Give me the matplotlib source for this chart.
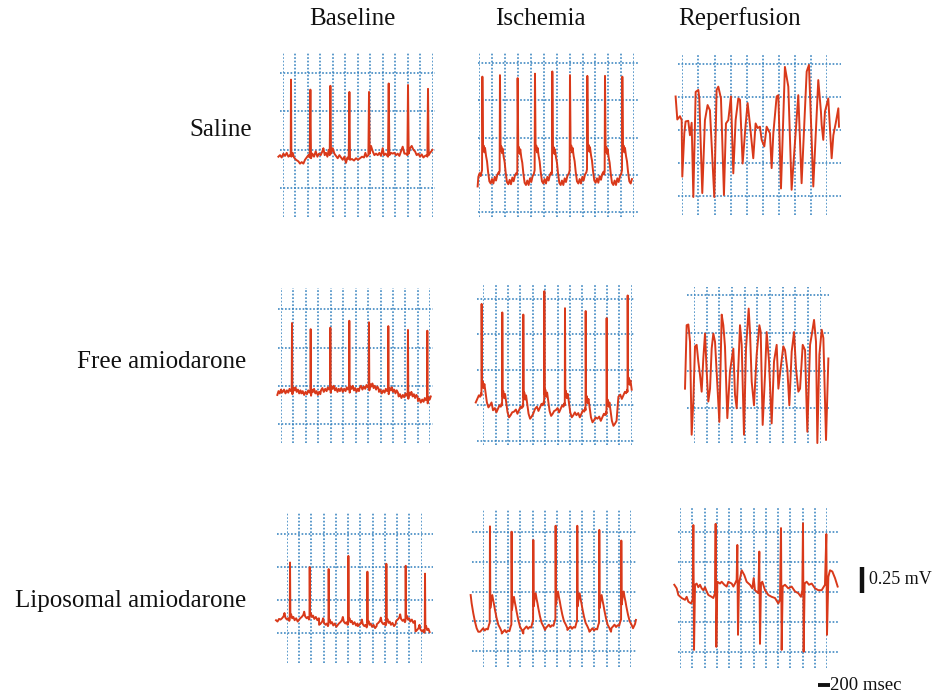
import matplotlib
matplotlib.use('Agg')
import matplotlib.pyplot as plt
import numpy as np

plt.rcParams['font.family'] = ['Liberation Serif', 'DejaVu Serif']

W, H = 944, 694
GRID_MS = 200     # one vertical division
GRID_MV = 0.5     # one horizontal division

col_titles = ['Baseline', 'Ischemia', 'Reperfusion']
row_titles = ['Saline', 'Free amiodarone', 'Liposomal amiodarone']

# ---------------- saline ----------------
sal_base_ms = [-69, -43, -16, 11, 37, 64, 91, 117, 128, 133, 139, 160, 181, 213, 251, 277, 304, 331, 357, 384,
               411, 432, 443, 453, 475, 501, 528, 555, 581, 608, 635, 651, 672, 693, 715, 736, 752, 763, 773, 800,
               827, 853, 880, 907, 933, 960, 987, 1013, 1035, 1056, 1067, 1077, 1109, 1141, 1173, 1205, 1237, 1269,
               1301, 1323, 1344, 1371, 1381, 1392, 1413, 1440, 1467, 1493, 1520, 1547, 1573, 1600, 1621, 1648,
               1675, 1685, 1696, 1707, 1733, 1760, 1787, 1813, 1840, 1867, 1893, 1920, 1947, 1973, 1995, 2005,
               2016, 2037, 2064, 2091, 2117, 2144, 2171, 2197, 2224, 2251, 2277, 2304, 2315, 2325, 2336, 2357,
               2379, 2395]
sal_base_mv = [0.41, 0.43, 0.40, 0.45, 0.42, 0.46, 0.41, 0.43, 0.42, 1.41, 0.41, 0.46, 0.40, 0.37, 0.35, 0.32,
               0.34, 0.32, 0.37, 0.40, 0.43, 0.40, 1.28, 0.39, 0.45, 0.41, 0.48, 0.41, 0.45, 0.43, 0.48, 0.52,
               0.43, 0.46, 0.41, 0.50, 0.43, 1.33, 0.45, 0.52, 0.45, 0.42, 0.39, 0.43, 0.40, 0.37, 0.41, 0.33,
               0.40, 0.38, 1.25, 0.37, 0.38, 0.36, 0.39, 0.37, 0.39, 0.41, 0.40, 0.46, 0.41, 0.43, 1.25, 0.45,
               0.55, 0.48, 0.43, 0.45, 0.43, 0.46, 0.42, 0.52, 0.43, 0.45, 0.42, 0.41, 1.36, 0.43, 0.46, 0.45,
               0.46, 0.43, 0.45, 0.42, 0.48, 0.54, 0.45, 0.45, 0.43, 1.34, 0.45, 0.52, 0.55, 0.50, 0.48, 0.43,
               0.45, 0.41, 0.44, 0.40, 0.42, 0.43, 0.41, 1.29, 0.43, 0.46, 0.48, 0.50]

sal_isch_beat_ms = [52, 324, 597, 865, 1133, 1406, 1674, 1947, 2215]
sal_isch_peak_mv = [1.82, 1.84, 1.80, 1.86, 1.89, 1.84, 1.83, 1.83, 1.82]
sal_isch_base_mv = [0.52, 0.51, 0.50, 0.52, 0.50, 0.52, 0.53, 0.50, 0.52]
sal_isch_shape_ms = [-15, -5, 10, 21, 31, 41, 57, 72, 88, 108, 129, 149, 170, 191, 211, 232, 252]
sal_isch_shape_mv = [0.00, 0.04, 0.31, 0.37, 0.28, 0.34, 0.23, 0.16, 0.02, -0.11, -0.14, -0.08, -0.14, -0.05,
                     -0.10, -0.02, 0.01]
sal_isch_lead_ms = [-21, -10, 10, 26]
sal_isch_lead_mv = [0.34, 0.47, 0.52, 0.48]

sal_rep_ms = [-83, -62, -29, -8, 0, 25, 41, 74, 95, 116, 137, 166, 199, 211, 248, 281, 314, 343, 397, 426,
              447, 480, 517, 542, 571, 604, 633, 662, 695, 716, 749, 786, 811, 840, 881, 910, 935, 964, 985, 1018,
              1047, 1088, 1109, 1130, 1171, 1192, 1225, 1274, 1316, 1357, 1440, 1481, 1544, 1572, 1606, 1626,
              1688, 1721, 1730, 1750, 1771, 1812, 1854, 1875, 1904, 1937, 1945]
sal_rep_mv = [1.51, 1.16, 1.21, 1.15, 0.29, 0.95, 1.13, 1.14, 0.92, 1.11, -0.02, 1.58, 1.61, 1.48, 0.04, 1.15,
              1.38, 1.30, -0.02, 1.61, 1.66, 1.48, 0.01, 1.10, 1.15, 1.51, 0.34, 1.15, 1.48, 1.46, 0.49, 1.08,
              1.41, 1.08, 0.57, 1.10, 1.03, 1.05, 0.85, 0.75, 1.05, 0.95, 0.42, 0.95, 1.51, 1.53, 0.11, 1.96,
              1.66, 0.09, 1.53, 0.19, 1.89, 1.99, 0.85, 0.14, 1.76, 1.28, 1.08, 0.85, 1.28, 1.48, 0.57, 0.92,
              1.10, 1.33, 1.05]

# ---------------- free amiodarone ----------------
free_base_beat_ms = [177, 477, 793, 1098, 1414, 1725, 2041, 2352]
free_base_peak_mv = [1.32, 1.24, 1.26, 1.35, 1.33, 1.28, 1.23, 1.22]
free_base_base_mv = [0.42, 0.40, 0.44, 0.44, 0.47, 0.42, 0.36, 0.30]
free_base_shape_ms = [-150, -128, -105, -82, -60, -40, -20, -5, 6, 20, 38, 55, 75, 95, 115, 135, 155]
free_base_shape_mv = [0.00, 0.03, -0.02, 0.02, -0.01, 0.04, 0.01, 0.02, -0.03, 0.05, 0.02, 0.06, 0.00, 0.03,
                      -0.02, 0.02, -0.01]
free_base_lead_ms = [-59, -40, -20, 0, 15]
free_base_lead_mv = [0.38, 0.43, 0.40, 0.45, 0.41]

free_isch_beat_ms = [-27, 307, 647, 987, 1321, 1656, 1995, 2335]
free_isch_peak_mv = [1.93, 1.81, 1.78, 2.11, 1.87, 1.83, 1.73, 2.05]
free_isch_base_mv = [0.62, 0.48, 0.46, 0.50, 0.48, 0.41, 0.36, 0.67]
free_isch_shape_ms = [-150, -120, -95, -70, -45, -25, -8, -3, 6, 16, 30, 45, 65, 85, 110, 135, 160]
free_isch_shape_mv = [-0.05, -0.02, -0.08, -0.03, 0.02, 0.00, 0.05, 0.02, 0.15, 0.22, 0.12, 0.18, 0.05, -0.08,
                      -0.15, -0.12, -0.08]

free_rep_ms = [-142, -116, -89, -63, -37, -11, 16, 42, 68, 95, 121, 147, 174, 200, 226, 253, 279, 305, 332, 400,
               437, 463, 489, 526, 568, 621, 647, 674, 726, 753, 789, 821, 863, 884, 911, 947, 989, 1032, 1053,
               1084, 1121, 1147, 1184, 1226, 1263, 1305, 1332, 1358, 1410, 1437, 1474, 1505, 1542, 1579, 1610,
               1647, 1674, 1716, 1753, 1789, 1832, 1858, 1895, 1926, 1947, 1979, 2016, 2042, 2084, 2121]
free_rep_mv = [0.26, 1.10, 1.11, 0.88, -0.35, 0.09, 0.82, 0.84, 0.62, 0.44, 0.22, 0.66, 0.99, 0.49, 0.09, 0.26,
               0.79, 0.99, 0.88, -0.18, 1.24, 1.10, 0.82, -0.13, 0.49, 0.79, 0.18, 0.00, 1.10, 0.84, -0.35, 0.79,
               1.32, 1.01, 0.35, 0.04, 0.71, 1.10, 1.01, -0.22, 0.44, 1.01, 0.62, -0.20, 0.62, 0.84, 0.26, 0.46,
               0.82, 0.77, 0.51, 0.04, 0.75, 1.01, 0.53, 0.22, 0.26, 0.84, 0.77, -0.31, 0.84, 0.97, 1.17, 0.88,
               -0.46, 0.71, 1.04, 0.93, -0.42, 0.66]

# ---------------- liposomal amiodarone ----------------
lipo_base_beat_ms = [54, 375, 684, 1005, 1315, 1624, 1939, 2254]
lipo_base_peak_mv = [1.07, 1.00, 0.97, 1.17, 0.93, 1.05, 1.02, 0.90]
lipo_base_base_mv = [0.20, 0.22, 0.12, 0.14, 0.10, 0.13, 0.18, 0.02]
lipo_base_shape_ms = [-155, -130, -105, -90, -75, -50, -30, -12, -4, 6, 18, 35, 55, 75, 100, 125, 150]
lipo_base_shape_mv = [0.00, 0.02, 0.05, 0.10, 0.03, 0.00, 0.02, -0.02, 0.00, 0.05, 0.08, 0.02, 0.04, -0.01,
                      0.02, -0.03, 0.00]
lipo_base_lead_ms = [-174, -150, -125]
lipo_base_lead_mv = [0.19, 0.17, 0.21]

lipo_isch_beat_ms = [108, 459, 811, 1173, 1524, 1881, 2238]
lipo_isch_peak_mv = [2.10, 2.01, 1.87, 2.11, 2.11, 2.04, 1.86]
lipo_isch_base_mv = [0.32, 0.29, 0.35, 0.38, 0.35, 0.32, 0.38]
lipo_isch_shape_ms = [-160, -135, -110, -85, -60, -35, -15, -4, 6, 20, 38, 54, 68, 81, 108, 135, 165, 190]
lipo_isch_shape_mv = [0.00, 0.03, 0.06, 0.02, 0.05, 0.04, 0.12, 0.15, 0.40, 0.52, 0.62, 0.52, 0.45, 0.37, 0.23,
                      0.12, 0.06, 0.00]
lipo_isch_lead_ms = [-205, -189, -162, -135, -108, -81]
lipo_isch_lead_mv = [0.94, 0.80, 0.63, 0.49, 0.38, 0.32]
lipo_isch_tail_ms = [2460, 2475]
lipo_isch_tail_mv = [0.45, 0.52]

lipo_rep_ms = [-93, -54, -27, 27, 82, 109, 136, 180, 207, 218, 229, 245, 272, 299, 327, 354, 381, 408, 435, 463,
               517, 544, 571, 582, 593, 610, 653, 680, 724, 762, 789, 844, 871, 898, 925, 936, 947, 963, 1007,
               1050, 1088, 1143, 1181, 1203, 1224, 1279, 1295, 1306, 1322, 1344, 1388, 1442, 1497, 1551, 1605,
               1633, 1649, 1660, 1676, 1714, 1769, 1823, 1877, 1932, 1975, 1997, 2008, 2019, 2035, 2068, 2106,
               2150, 2204, 2259, 2313, 2367, 2389, 2400, 2422, 2449, 2487, 2531, 2574]
lipo_rep_mv = [1.12, 1.06, 0.95, 0.90, 0.87, 0.92, 0.84, 0.81, 0.87, 2.11, 0.04, 1.12, 1.14, 1.08, 1.12, 1.06,
               1.03, 1.08, 1.01, 0.95, 0.92, 0.90, 0.98, 2.13, 0.09, 1.17, 1.14, 1.17, 1.12, 1.09, 1.17, 1.14,
               1.09, 1.14, 1.20, 1.78, 0.29, 1.14, 1.36, 1.28, 1.17, 1.12, 1.06, 1.23, 1.03, 0.98, 1.67, 0.14,
               1.14, 1.17, 1.03, 0.95, 0.92, 0.90, 0.81, 0.87, 2.06, 0.04, 1.09, 1.12, 1.06, 1.09, 1.01, 0.98,
               0.92, 1.03, 2.14, 0.01, 1.14, 1.17, 1.12, 1.14, 1.06, 1.03, 1.03, 1.12, 1.96, 0.29, 1.25, 1.36,
               1.34, 1.23, 1.09]

SCALE_MV = 0.25
SCALE_MS = 200


def beat_trace(beat_ms, peak_mv, base_mv, shape_ms, shape_mv, span, lead=((), ()), tail=((), ())):
    # one copy of the measured beat shape per R wave, on that beat's baseline
    t, v = list(lead[0]), list(lead[1])
    for T, A, B in zip(beat_ms, peak_mv, base_mv):
        pts = sorted([(T + d, B + s) for d, s in zip(shape_ms, shape_mv)] + [(T, A)])
        t += [p[0] for p in pts]
        v += [p[1] for p in pts]
    t += list(tail[0])
    v += list(tail[1])
    t, v = np.array(t, float), np.array(v, float)
    keep = (t >= span[0]) & (t <= span[1])
    return t[keep], v[keep]


traces = {
    (0, 0): (np.array(sal_base_ms), np.array(sal_base_mv)),
    (0, 1): beat_trace(sal_isch_beat_ms, sal_isch_peak_mv, sal_isch_base_mv, sal_isch_shape_ms,
                       sal_isch_shape_mv, (-21, 2375), lead=(sal_isch_lead_ms, sal_isch_lead_mv)),
    (0, 2): (np.array(sal_rep_ms), np.array(sal_rep_mv)),
    (1, 0): beat_trace(free_base_beat_ms, free_base_peak_mv, free_base_base_mv, free_base_shape_ms,
                       free_base_shape_mv, (-59, 2421), lead=(free_base_lead_ms, free_base_lead_mv)),
    (1, 1): beat_trace(free_isch_beat_ms, free_isch_peak_mv, free_isch_base_mv, free_isch_shape_ms,
                       free_isch_shape_mv, (-124, 2416)),
    (1, 2): (np.array(free_rep_ms), np.array(free_rep_mv)),
    (2, 0): beat_trace(lipo_base_beat_ms, lipo_base_peak_mv, lipo_base_base_mv, lipo_base_shape_ms,
                       lipo_base_shape_mv, (-174, 2352), lead=(lipo_base_lead_ms, lipo_base_lead_mv)),
    (2, 1): beat_trace(lipo_isch_beat_ms, lipo_isch_peak_mv, lipo_isch_base_mv, lipo_isch_shape_ms,
                       lipo_isch_shape_mv, (-205, 2475), lead=(lipo_isch_lead_ms, lipo_isch_lead_mv),
                       tail=(lipo_isch_tail_ms, lipo_isch_tail_mv)),
    (2, 2): (np.array(lipo_rep_ms), np.array(lipo_rep_mv)),
}

# layout in pixels: first / last vertical line, top / bottom horizontal line,
# vertical line top / bottom ends, horizontal line left / right ends
grid_px = {
    (0, 0): (282.7, 432.7, 72.7, 188.3, 53, 217, 280, 435),
    (0, 1): (479.0, 634.3, 63.3, 211.7, 53, 217, 478, 638),
    (0, 2): (682.3, 827.3, 64.3, 195.7, 55, 215, 677.7, 841),
    (1, 0): (281.0, 430.3, 309.3, 424.0, 288, 443, 278, 433),
    (1, 1): (483.3, 631.7, 299.0, 440.7, 285, 445, 476.7, 635),
    (1, 2): (694.0, 820.7, 295.0, 408.3, 286.7, 443.3, 687, 829),
    (2, 0): (286.7, 421.7, 534.3, 632.7, 513, 663, 276.7, 432.7),
    (2, 1): (483.3, 631.3, 532.3, 650.7, 509.3, 666.7, 471.7, 636),
    (2, 2): (680.0, 827.0, 531.7, 652.3, 506.7, 668.3, 677.7, 838.3),
}
# number of vertical / horizontal grid lines
grid_n = {(0, 0): (13, 4), (0, 1): (13, 5), (0, 2): (10, 5),
          (1, 0): (13, 4), (1, 1): (13, 5), (1, 2): (11, 4),
          (2, 0): (12, 4), (2, 1): (13, 5), (2, 2): (13, 5)}

GRID_COLOR = '#2f7fbd'
TRACE_COLOR = '#d9391a'
DOTS = (0, (1.1, 1.2))

fig = plt.figure(figsize=(W / 100, H / 100), dpi=100)
fig.patch.set_facecolor('white')

for key, (t, v) in traces.items():
    x1, x2, yt, yb, vt, vb, hl, hr = grid_px[key]
    nv, nh = grid_n[key]
    ax = fig.add_axes([x1 / W, 1 - vb / H, (x2 - x1) / W, (vb - vt) / H])
    ms_per_px = (nv - 1) * GRID_MS / (x2 - x1)
    mv_per_px = (nh - 1) * GRID_MV / (yb - yt)
    ax.set_xlim(0, (nv - 1) * GRID_MS)
    ax.set_ylim(-(vb - yb) * mv_per_px, (nh - 1) * GRID_MV + (yt - vt) * mv_per_px)
    ax.axis('off')
    for i in range(nv):
        ax.axvline(i * GRID_MS, color=GRID_COLOR, lw=1.1, ls=DOTS, zorder=1)
    ax.hlines(np.arange(nh) * GRID_MV, -(x1 - hl) * ms_per_px, (nv - 1) * GRID_MS + (hr - x2) * ms_per_px,
              color=GRID_COLOR, lw=1.1, linestyles=[DOTS], zorder=1, clip_on=False)
    ax.plot(t, v, color=TRACE_COLOR, lw=1.4, zorder=3, clip_on=False)

# labels
lab = fig.add_axes([0, 0, 1, 1])
lab.set_xlim(0, W)
lab.set_ylim(H, 0)
lab.axis('off')
for x, s in zip([352, 540, 740], col_titles):
    lab.text(x, 19, s, ha='center', va='center', fontsize=18, color='#111111')
for (x, y), s in zip([(252, 130), (246, 362), (246, 601)], row_titles):
    lab.text(x, y, s, ha='right', va='center', fontsize=18, color='#111111')
lab.text(869, 580, '0.25 mV', ha='left', va='center', fontsize=13, color='#111111')
lab.text(830, 685, '200 msec', ha='left', va='center', fontsize=13.5, color='#111111')

# scale bars
sb = fig.add_axes([858 / W, 1 - 593 / H, 8 / W, 26 / H])
sb.set_xlim(-1, 1)
sb.set_ylim(0, SCALE_MV)
sb.axis('off')
sb.plot([0, 0], [0, SCALE_MV], color='#111111', lw=3.2, solid_capstyle='butt')
sb2 = fig.add_axes([818 / W, 1 - 690 / H, 12 / W, 10 / H])
sb2.set_xlim(0, SCALE_MS)
sb2.set_ylim(-1, 1)
sb2.axis('off')
sb2.plot([0, SCALE_MS], [0, 0], color='#111111', lw=2.8, solid_capstyle='butt')

fig.savefig('out.png', dpi=100, facecolor='white')
